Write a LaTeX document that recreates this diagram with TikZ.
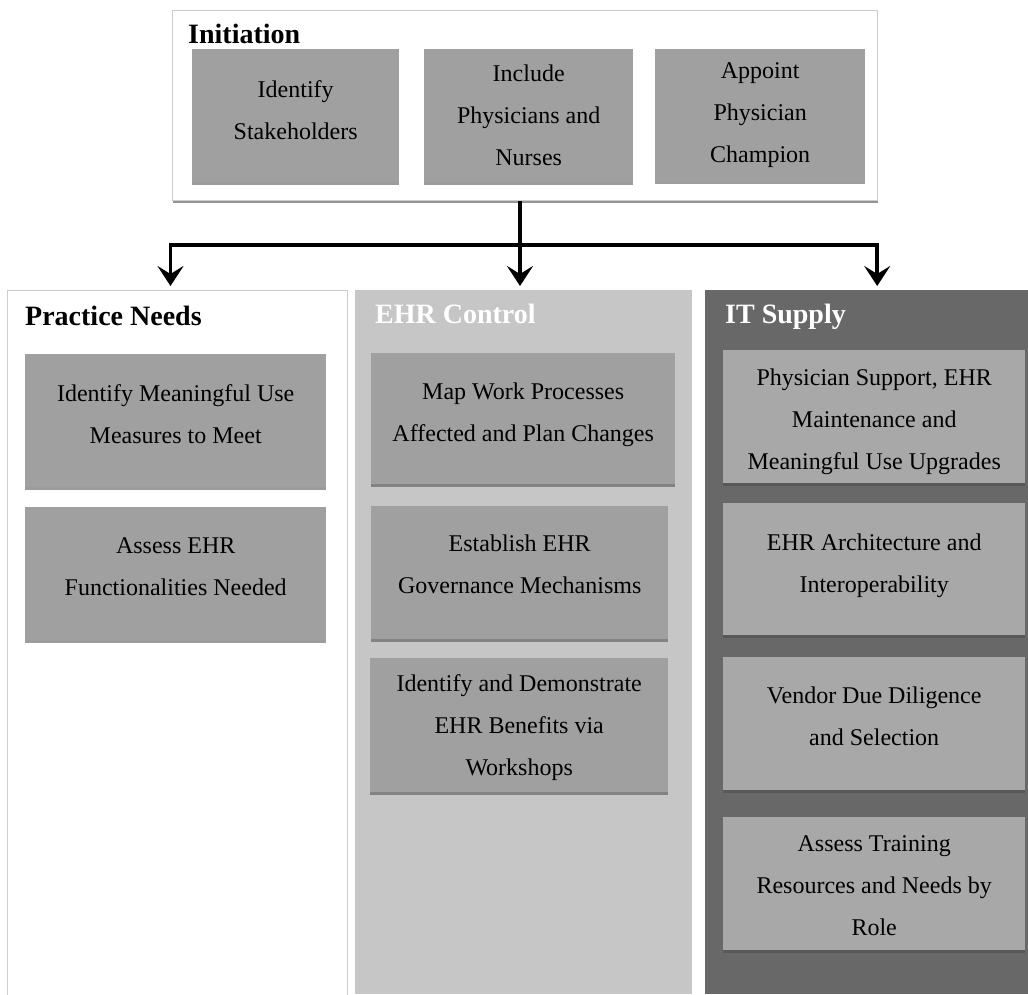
\documentclass[tikz,border=0pt]{standalone}
\usepackage{fontspec}
\setmainfont{Liberation Serif}
\usetikzlibrary{arrows.meta,shadows}

\definecolor{cellgray}{RGB}{160,160,160}
\definecolor{cellgrayit}{RGB}{168,168,168}
\definecolor{ctrlpanel}{RGB}{198,198,198}
\definecolor{supplypanel}{RGB}{104,104,104}
\definecolor{edgegray}{RGB}{205,205,205}

\tikzset{
  cell/.style={anchor=north west, fill=cellgray, inner sep=0pt,
    drop shadow={shadow xshift=0pt, shadow yshift=-3pt, opacity=0.55, fill=black!70}},
  itcell/.style={cell, fill=cellgrayit},
  celltext/.style={inner sep=0pt, align=center, font=\fontsize{24}{42}\selectfont},
  panel/.style={anchor=north west, inner sep=0pt},
  paneltitle/.style={anchor=base west, inner sep=0pt, font=\fontsize{28}{34}\selectfont\bfseries},
  wire/.style={line width=3.8pt, line join=miter, draw=black},
  arrowtip/.style={-{Stealth[length=20pt,width=26pt,inset=8pt]}, shorten >=4pt}
}

\begin{document}
\begin{tikzpicture}[x=1pt,y=-1pt]
\useasboundingbox (0,0) rectangle (1028,994);

% ---- Initiation group ----
\node[panel, fill=white, draw=edgegray, line width=1pt,
      minimum width=705pt, minimum height=190pt,
      drop shadow={shadow xshift=0pt, shadow yshift=-2pt, opacity=0.6, fill=black!70}]
      (init) at (172,10) {};
\node[paneltitle] (initt) at (188,43) {Initiation};
\node[cell, minimum width=207pt, minimum height=133pt] (i1) at (192,49) {};
\node[cell, minimum width=209pt, minimum height=133pt] (i2) at (424,49) {};
\node[cell, minimum width=210pt, minimum height=132pt] (i3) at (655,49) {};
\node[celltext] (i1t) at ([yshift=6pt]i1.center) {Identify\\Stakeholders};
\node[celltext] (i2t) at (i2.center) {Include\\Physicians and\\Nurses};
\node[celltext] (i3t) at (i3.center) {Appoint\\Physician\\Champion};

% ---- Three stream panels ----
\node[panel, fill=white, draw=edgegray, line width=1pt,
      minimum width=340pt, minimum height=710pt] (pn) at (7,290) {};
\node[panel, fill=ctrlpanel, minimum width=337pt, minimum height=704pt] (ec) at (355,290) {};
\node[panel, fill=supplypanel, minimum width=323pt, minimum height=704pt] (it) at (705,290) {};

\node[paneltitle] (pnt) at (25,325) {Practice Needs};
\node[paneltitle, text=white] (ect) at (375,323) {EHR Control};
\node[paneltitle, text=white] (itt) at (725,323) {IT Supply};

% Practice Needs
\node[cell, minimum width=301pt, minimum height=133pt] (p1) at (25,354) {};
\node[cell, minimum width=301pt, minimum height=133pt] (p2) at (25,507) {};
\node[celltext] (p1t) at ([yshift=7pt]p1.center) {Identify Meaningful Use\\Measures to Meet};
\node[celltext] (p2t) at ([yshift=7pt]p2.center) {Assess EHR\\Functionalities Needed};

% EHR Control
\node[cell, minimum width=304pt, minimum height=131pt] (e1) at (371,353) {};
\node[cell, minimum width=297pt, minimum height=133pt] (e2) at (371,506) {};
\node[cell, minimum width=298pt, minimum height=134pt] (e3) at (370,658) {};
\node[celltext] (e1t) at ([yshift=4pt]e1.center) {Map Work Processes\\Affected and Plan Changes};
\node[celltext] (e2t) at ([yshift=8pt]e2.center) {Establish EHR\\Governance Mechanisms};
\node[celltext] (e3t) at ([yshift=-2pt]e3.center) {Identify and Demonstrate\\EHR Benefits via\\Workshops};

% IT Supply
\node[itcell, minimum width=302pt, minimum height=133pt] (t1) at (723,350) {};
\node[itcell, minimum width=302pt, minimum height=132pt] (t2) at (723,503) {};
\node[itcell, minimum width=302pt, minimum height=133pt] (t3) at (723,657) {};
\node[itcell, minimum width=302pt, minimum height=133pt] (t4) at (723,817) {};
\node[celltext] (t1t) at ([yshift=-5pt]t1.center) {Physician Support, EHR\\Maintenance and\\Meaningful Use Upgrades};
\node[celltext] (t2t) at ([yshift=3pt]t2.center) {EHR Architecture and\\Interoperability};
\node[celltext] (t3t) at ([yshift=7pt]t3.center) {Vendor Due Diligence\\and Selection};
\node[celltext] (t4t) at ([yshift=-2pt]t4.center) {Assess Training\\Resources and Needs by\\Role};

% ---- Connectors ----
\coordinate (split) at (520,245);
\draw[wire] (init.south -| split) -- (split);
\draw[wire, arrowtip] (split) -| ([xshift=-7pt]pn.north);
\draw[wire, arrowtip] (split) -| ([xshift=10.5pt]it.north);
\draw[wire, arrowtip] (split) -- (split |- ec.north);
\end{tikzpicture}
\end{document}
